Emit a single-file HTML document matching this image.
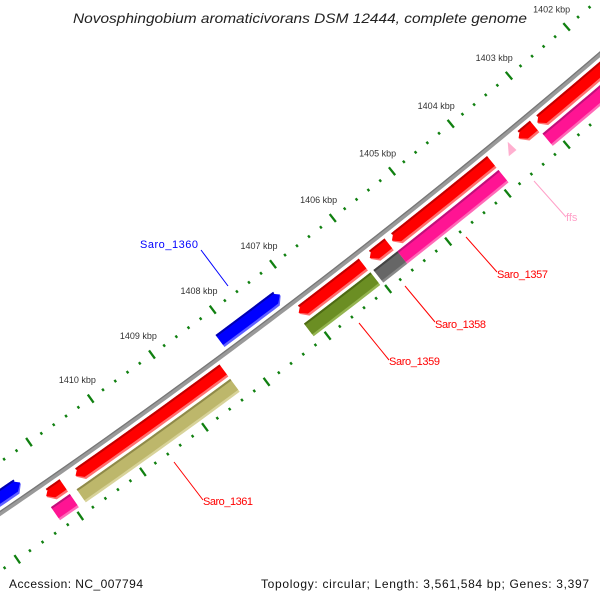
<!DOCTYPE html>
<html><head><meta charset="utf-8"><style>
html,body{margin:0;padding:0;background:#fff;}
svg{display:block;}
text{font-family:"Liberation Sans",sans-serif;}
</style></head><body>
<svg id="map" width="600" height="600" viewBox="0 0 600 600" xmlns="http://www.w3.org/2000/svg">
<rect width="600" height="600" fill="#fff"/>
<g id="rulers"></g>
<g id="backbone"></g>
<g id="features"></g>
<g id="labels">
<line x1="201" y1="250" x2="228" y2="286" stroke="#0000ff" stroke-width="1"/>
<text x="140" y="248" font-size="11" fill="#0000ff" textLength="58">Saro_1360</text>
<line x1="466" y1="237" x2="497" y2="272" stroke="#ff0000" stroke-width="1"/>
<text x="497" y="278" font-size="11" fill="#ff0000" textLength="51">Saro_1357</text>
<line x1="405" y1="286" x2="435" y2="322" stroke="#ff0000" stroke-width="1"/>
<text x="435" y="328" font-size="11" fill="#ff0000" textLength="51">Saro_1358</text>
<line x1="359" y1="323" x2="389" y2="360" stroke="#ff0000" stroke-width="1"/>
<text x="389" y="365" font-size="11" fill="#ff0000" textLength="51">Saro_1359</text>
<line x1="174" y1="462" x2="203" y2="500" stroke="#ff0000" stroke-width="1"/>
<text x="203" y="505" font-size="11" fill="#ff0000" textLength="50">Saro_1361</text>
<line x1="534" y1="181" x2="566" y2="217" stroke="#ffa0c8" stroke-width="1"/>
<text x="566" y="221" font-size="11" fill="#ffa0c8">ffs</text>
</g>
<text x="73" y="23" font-size="14" font-style="italic" fill="#222" textLength="454" lengthAdjust="spacingAndGlyphs">Novosphingobium aromaticivorans DSM 12444, complete genome</text>
<text x="9" y="588" font-size="12" fill="#111" textLength="134">Accession: NC_007794</text>
<text x="261" y="588" font-size="12" fill="#111" textLength="328">Topology: circular; Length: 3,561,584 bp; Genes: 3,397</text>
</svg>
<script>
// feature data (kbp)
const featNames = ['Saro_1360','blue-left','Saro_1361','red-small-left','Saro_1359-red','Saro_1358','Saro_1357','red-small-top','red-top','Saro_1361-khaki','pink-small-left','Saro_1359','Saro_1358-gray','Saro_1357-magenta','magenta-top'];
const featStart = [1407.17,1411.4,1408.36,1410.95,1406.06,1405.63,1403.9,1403.17,1400.5,1408.36,1410.95,1406.05,1405.6,1403.9,1400.5];
const featEnd   = [1408.17,1413.0,1410.75,1411.22,1407.12,1405.94,1405.57,1403.43,1403.11,1410.84,1411.25,1407.15,1406.0,1405.6,1403.15];
const featTrack = [0,0,1,1,1,1,1,1,1,2,2,2,2,2,2];
const featDir   = [-1,-1,1,1,1,1,1,1,1,0,0,0,0,0,0];
const featColor = ['blue','blue','red','red','red','red','red','red','red','khaki','magenta','olive','gray','magenta','magenta'];
const majorTicks = [1402,1403,1404,1405,1406,1407,1408,1409,1410];
const tickLabels = ['1402 kbp','1403 kbp','1404 kbp','1405 kbp','1406 kbp','1407 kbp','1408 kbp','1409 kbp','1410 kbp'];

const NS='http://www.w3.org/2000/svg';
const CX=-3850, CY=-5137;
function ang(k){return (49.46+(k-1402)*0.6367)*Math.PI/180;}
function pos(k,r){const a=ang(k);return [CX+r*Math.cos(a), CY+r*Math.sin(a)];}
const trackR=[[6817,6832],[6843,6858],[6861,6877]];
const palette={
 blue:['#0000ff','#0000b0','#6060ff'],
 red:['#ff0000','#c00000','#ff7070'],
 khaki:['#bdb76b','#8f8a4a','#d8d39a'],
 magenta:['#ff1493','#c0107a','#ff6ab8'],
 olive:['#6b8e23','#4d6a14','#94b450'],
 gray:['#666666','#444444','#888888']
};
function mk(tag,attrs,parent){const e=document.createElementNS(NS,tag);for(const k in attrs)e.setAttribute(k,attrs[k]);parent.appendChild(e);return e;}
function ptsStr(a){return a.map(p=>p[0].toFixed(2)+','+p[1].toFixed(2)).join(' ');}

// rulers
const rul=document.getElementById('rulers');
[6795,6885].forEach((R,ri)=>{
  for(let i=0;i<=60;i++){
    const k=1400.2+i*0.2;
    const major=Math.abs(k-Math.round(k))<0.01;
    const h=major?5:1.4;
    const p1=pos(k,R-h),p2=pos(k,R+h);
    const ln=mk('line',{x1:p1[0],y1:p1[1],x2:p2[0],y2:p2[1],stroke:'#108010','stroke-width':2.3},rul);
    
    
  }
});
majorTicks.forEach((k,i)=>{
  const p=pos(k,6772);
  const t=mk('text',{x:p[0],y:p[1]+3,'font-size':9,fill:'#333','text-anchor':'middle'},rul);
  t.textContent=tickLabels[i];
  
  
});

// backbone
const bb=document.getElementById('backbone');
function arcPts(k0,k1,r){const a=[];const n=Math.max(2,Math.ceil(Math.abs(k1-k0)/0.1));for(let i=0;i<=n;i++)a.push(pos(k0+(k1-k0)*i/n,r));return a;}
const bbl=mk('polyline',{points:ptsStr(arcPts(1400,1413,6837.5)),fill:'none',stroke:'#999','stroke-width':4.5},bb);


const bbd=mk('polyline',{points:ptsStr(arcPts(1400,1413,6835.8)),fill:'none',stroke:'#777','stroke-width':1.3},bb);



// features
const fg=document.getElementById('features');
function featPoly(s,e,r0,r1,dir){
  const head=0.09; let pts=[];
  let a=s,b=e;
  if(dir>0) b=e-head; if(dir<0) a=s+head;
  pts=pts.concat(arcPts(a,b,r0));
  if(dir>0) pts.push(pos(e,(r0+r1)/2));
  pts=pts.concat(arcPts(b,a,r1));
  if(dir<0) pts.push(pos(s,(r0+r1)/2));
  return pts;
}
featStart.forEach((s,i)=>{
  const e=featEnd[i],tr=trackR[featTrack[i]],c=palette[featColor[i]],d=featDir[i];
  const g=mk('g',{},fg);
  
  
  const p0=mk('polygon',{points:ptsStr(featPoly(s,e,tr[0],tr[1],d)),fill:c[2]},g);
  
  
  const p1=mk('polygon',{points:ptsStr(featPoly(s,e,tr[0],tr[1]-2.5,d)),fill:c[0]},g);
  
  
  const p2=mk('polygon',{points:ptsStr(featPoly(s+(d<0?0.05:0),e-(d>0?0.05:0),tr[0],tr[0]+2,0)),fill:c[1]},g);
  
  
});
// ffs small feature
const ffs=mk('polygon',{points:ptsStr([pos(1403.55,6857),pos(1403.68,6857),pos(1403.57,6845)]),fill:'#ffb0d0'},fg);


</script>
</body></html>
